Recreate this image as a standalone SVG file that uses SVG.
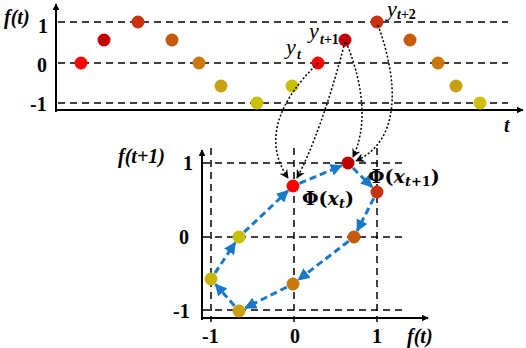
<svg xmlns="http://www.w3.org/2000/svg" width="526" height="348" viewBox="0 0 526 348">
<defs>
<marker id="ax" viewBox="0 0 10 10" refX="9" refY="5" markerWidth="7" markerHeight="7" markerUnits="userSpaceOnUse" orient="auto"><path d="M0,0 L10,5 L0,10 z" fill="#000"/></marker>
<marker id="blue" viewBox="0 0 10 10" refX="9" refY="5" markerWidth="12" markerHeight="12" markerUnits="userSpaceOnUse" orient="auto"><path d="M0,0 L10,5 L0,10 z" fill="#1a78c8"/></marker>
<marker id="dot" viewBox="0 0 10 10" refX="9" refY="5" markerWidth="9" markerHeight="9" markerUnits="userSpaceOnUse" orient="auto"><path d="M0,0 L10,5 L0,10 L3,5 z" fill="#000"/></marker>
</defs>
<style>
.axis{stroke:#000;stroke-width:2;fill:none}
.grid{stroke:#000;stroke-width:1.5;stroke-dasharray:7,5;fill:none}
.num{font-family:"Liberation Serif",serif;font-weight:bold;font-size:20px;fill:#000}
.lab{font-family:"Liberation Serif",serif;font-weight:bold;font-style:italic;font-size:20px;fill:#000}
.yl{font-family:"Liberation Serif",serif;font-style:italic;font-size:22px;fill:#000}
.sub{font-family:"Liberation Serif",serif;font-weight:bold;font-size:14px;fill:#000}
.phi{font-family:"DejaVu Serif",serif;font-weight:bold;font-size:19px;fill:#000}
.link{stroke:#1a78c8;stroke-width:3;stroke-dasharray:7,4;fill:none;marker-end:url(#blue)}
.dotted{stroke:#000;stroke-width:1.5;stroke-dasharray:2,2;fill:none;marker-end:url(#dot)}
</style>
<g id="top-plot">
<line class="grid" x1="58" y1="22" x2="508" y2="22"/>
<line class="grid" x1="58" y1="63" x2="508" y2="63"/>
<line class="grid" x1="58" y1="103" x2="508" y2="103"/>
<line class="axis" x1="56" y1="112" x2="56" y2="4" marker-end="url(#ax)"/>
<line class="axis" x1="55" y1="110" x2="523" y2="110" marker-end="url(#ax)"/>
<text class="lab" x="4" y="24">f(t)</text>
<text class="num" x="38" y="33">1</text>
<text class="num" x="37" y="72">0</text>
<text class="num" x="30" y="111">-1</text>
<text class="lab" x="504" y="132">t</text>
</g>
<g id="top-dots">
<circle cx="81" cy="63" r="6.5" fill="#ff0000"/>
<circle cx="104" cy="40" r="6.5" fill="#c00000"/>
<circle cx="138" cy="22" r="6.5" fill="#c8320c"/>
<circle cx="172" cy="40" r="6.5" fill="#c85a0c"/>
<circle cx="199" cy="63" r="6.5" fill="#c8780c"/>
<circle cx="221" cy="86" r="6.5" fill="#c8a010"/>
<circle cx="257" cy="103" r="6.5" fill="#c8c000"/>
<circle cx="292" cy="86" r="6.5" fill="#c8c000"/>
<circle cx="318" cy="63" r="6.5" fill="#ff0000"/>
<circle cx="345" cy="40" r="6.5" fill="#c00000"/>
<circle cx="377" cy="22" r="6.5" fill="#c8320c"/>
<circle cx="410" cy="40" r="6.5" fill="#c85a0c"/>
<circle cx="438" cy="63" r="6.5" fill="#c8780c"/>
<circle cx="456" cy="86" r="6.5" fill="#c8a010"/>
<circle cx="480" cy="103" r="6.5" fill="#c8c000"/>
</g>
<g id="y-labels">
<text class="yl" x="286" y="54">y</text><text class="sub" x="297" y="59" font-style="italic">t</text>
<text class="yl" x="309" y="38">y</text><text class="sub" x="320" y="44"><tspan font-style="italic">t</tspan>+1</text>
<text class="yl" x="387" y="16" font-size="19">y</text><text class="sub" x="397" y="19" font-size="13"><tspan font-style="italic">t</tspan>+2</text>
</g>
<g id="bottom-plot">
<line class="grid" x1="203" y1="163" x2="407" y2="163"/>
<line class="grid" x1="203" y1="237" x2="407" y2="237"/>
<line class="grid" x1="203" y1="310" x2="407" y2="310"/>
<line class="grid" x1="211" y1="148" x2="211" y2="322"/>
<line class="grid" x1="294" y1="148" x2="294" y2="322"/>
<line class="grid" x1="377" y1="148" x2="377" y2="322"/>
<line class="axis" x1="202" y1="320" x2="202" y2="150" marker-end="url(#ax)"/>
<line class="axis" x1="201" y1="318" x2="428" y2="318" marker-end="url(#ax)"/>
<text class="lab" x="118" y="163">f(t+1)</text>
<text class="num" x="183" y="170">1</text>
<text class="num" x="179" y="244">0</text>
<text class="num" x="173" y="318">-1</text>
<text class="num" x="202" y="343">-1</text>
<text class="num" x="290" y="343">0</text>
<text class="num" x="372" y="343">1</text>
<text class="lab" x="407" y="343">f(t)</text>
</g>
<g id="connectors">
<path class="link" d="M299.5,183.3 L341.5,165.7"/>
<path class="link" d="M353,168 L372,187"/>
<path class="link" d="M373.8,198.2 L357.2,230.8"/>
<path class="link" d="M348.5,241.3 L298.5,279.7"/>
<path class="link" d="M286.7,287.1 L245.3,307.9"/>
<path class="link" d="M234.4,305.7 L215.6,284.3"/>
<path class="link" d="M214.9,273.2 L235.1,242.8"/>
<path class="link" d="M244.1,232.2 L287.9,190.8"/>
<path class="dotted" d="M318,63 C280,100 262,140 288,178"/>
<path class="dotted" d="M345,42 C330,100 312,150 297,178"/>
<path class="dotted" d="M346,42 C366,90 366,130 353,157"/>
<path class="dotted" d="M378,25 C398,80 402,140 356,161"/>
</g>
<g id="phase-dots">
<circle cx="293" cy="186" r="6.5" fill="#ff0000"/>
<circle cx="348" cy="163" r="6.5" fill="#c00000"/>
<circle cx="377" cy="192" r="6.5" fill="#c8320c"/>
<circle cx="354" cy="237" r="6.5" fill="#c85a0c"/>
<circle cx="293" cy="284" r="6.5" fill="#c8780c"/>
<circle cx="239" cy="311" r="6.5" fill="#c8a010"/>
<circle cx="211" cy="279" r="6.5" fill="#c8b408"/>
<circle cx="239" cy="237" r="6.5" fill="#c8c000"/>
</g>
<g id="phi-labels">
<text class="phi" x="302" y="205">Φ(<tspan font-style="italic">x</tspan><tspan font-size="13" font-style="italic" dy="3">t</tspan><tspan dy="-3">)</tspan></text>
<text class="phi" x="368" y="183">Φ(<tspan font-style="italic">x</tspan><tspan font-size="13" dy="3"><tspan font-style="italic">t</tspan>+1</tspan><tspan dy="-3">)</tspan></text>
</g>
</svg>
